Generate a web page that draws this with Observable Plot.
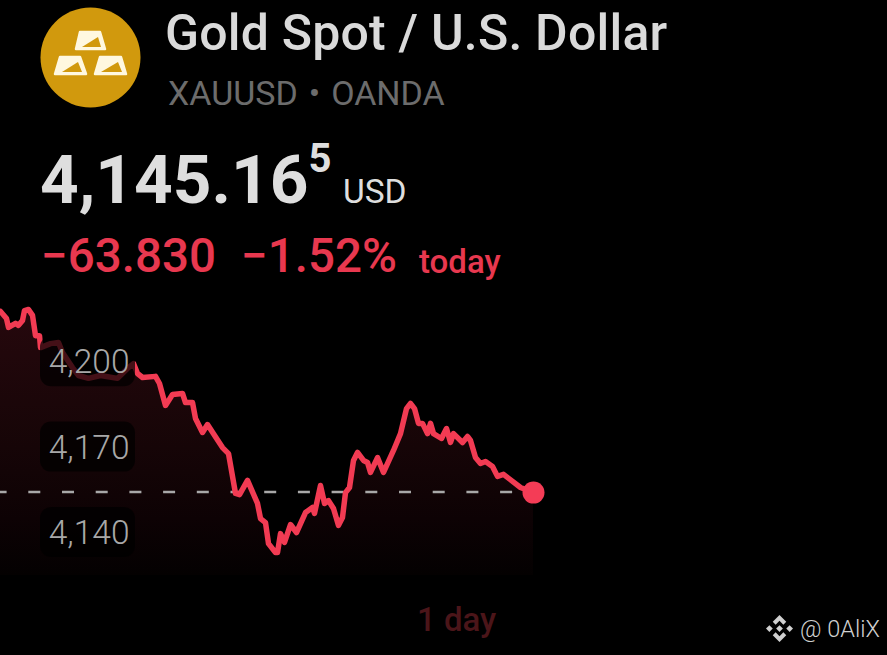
<!DOCTYPE html>
<html>
<head>
<meta charset="utf-8">
<script src="https://cdn.jsdelivr.net/npm/d3@7"></script>
<script src="https://cdn.jsdelivr.net/npm/@observablehq/plot@0.6"></script>
<style>
html,body{margin:0;padding:0;background:#000;width:887px;height:655px;overflow:hidden;font-family:Roboto,sans-serif}
#head{position:relative;width:887px;height:300px}
.t{position:absolute;line-height:1;white-space:nowrap}
#chart{position:absolute;left:0;top:300px;width:887px;height:355px}
#chart svg{display:block;background:transparent}
</style>
</head>
<body>
<div id="head">
<svg style="position:absolute;left:40px;top:7px" width="101" height="101" viewBox="0 0 101 101">
  <circle cx="50.5" cy="50.5" r="50" fill="#d1990d"/>
  <g fill="#fff8e0" stroke="#fff8e0" stroke-width="2.5" stroke-linejoin="round">
    <path d="M40 25 H60 L65 42 H36 Z"/>
    <path d="M20 50 H40 L46 67 H15 Z"/>
    <path d="M60 50 H81 L86 67 H55 Z"/>
  </g>
  <g fill="#d1990d">
    <path d="M42 40 L58 30 L61 40 Z"/>
    <path d="M22 65 L38 55 L42 65 Z"/>
    <path d="M61 65 L78 55 L82 65 Z"/>
  </g>
</svg>
<div class="t" style="left:165px;top:8px;font-size:50px;font-weight:500;letter-spacing:.2px;color:#dadada">Gold Spot / U.S. Dollar</div>
<div class="t" style="left:168px;top:76px;font-size:34px;word-spacing:2.5px;color:#6c6c6c">XAUUSD • OANDA</div>
<div class="t" style="left:40px;top:146px;font-size:67.5px;font-weight:700;color:#dedede">4,145.16<span style="font-size:40px;position:relative;top:-31px;margin-left:0px">5</span></div>
<div class="t" style="left:343px;top:175px;font-size:33.5px;color:#dedede">USD</div>
<div class="t" style="left:41px;top:233px;font-size:47.5px;font-weight:500;color:#e8384f">−63.830</div>
<div class="t" style="left:241px;top:233px;font-size:47.5px;font-weight:500;color:#e8384f">−1.52%</div>
<div class="t" style="left:419px;top:245px;font-size:33px;font-weight:500;color:#e8384f">today</div>
</div>
<div id="chart"></div>
<div class="t" style="left:417px;top:603px;font-size:33px;font-weight:500;color:#4b1519">1 day</div>
<svg style="position:absolute;left:766px;top:615px" width="27" height="27" viewBox="0 0 28 28">
  <g fill="#d0d0d0">
    <path d="M14 0 L21 7 L18 10 L14 6 L10 10 L7 7 Z"/>
    <path d="M14 28 L7 21 L10 18 L14 22 L18 18 L21 21 Z"/>
    <path d="M3.5 10.5 L7 14 L3.5 17.5 L0 14 Z"/>
    <path d="M24.5 10.5 L28 14 L24.5 17.5 L21 14 Z"/>
    <path d="M14 10.5 L17.5 14 L14 17.5 L10.5 14 Z"/>
  </g>
</svg>
<div class="t" style="left:800px;top:618px;font-size:23.5px;font-weight:300;color:#d0d0d0">@ 0AliX</div>
<script>
const bars = [0,6,8,15,18,22,24,28,32,35,39,40,45,50,58,62,72,78,88,100,117,128,133,137,142,155,159,165,172,182,185,192,195,202,207,213,222,228,235,239,247,257,260,265,268,275,277,280,284,290,296,305,312,314,320,324,328,333,338,342,345,349,353,357,363,367,370,377,383,393,400,406,410,414,418,422,427,430,433,441,446,450,453,462,467,470,475,480,485,492,497,503,520,533];
const prices = [4217.6,4215.1,4212,4213.4,4212.7,4214.4,4217.9,4218.3,4216.2,4209.1,4209.1,4204.9,4205.6,4206.3,4206.7,4203.2,4197.9,4195.1,4194.1,4195.1,4194.1,4197.9,4199.3,4195.8,4194.4,4194.8,4192.3,4184.6,4188.4,4188.8,4185.6,4185.6,4180,4175.1,4177.9,4174.7,4169.8,4167.7,4153.7,4153.3,4158.3,4150.2,4144.9,4143.5,4136.1,4133,4133,4139.6,4136.5,4142.8,4140,4147,4148.8,4146.7,4156.5,4150.2,4151.2,4148.4,4142.5,4145.3,4154,4155.8,4165.3,4168.1,4165.3,4164.6,4161.1,4166.3,4161.1,4168.8,4174.7,4183.5,4185.3,4183.5,4178.3,4178.3,4174.7,4178.3,4174.7,4173,4176.5,4171.6,4174.7,4171.6,4173.7,4172.3,4166.3,4164.2,4164.9,4163.2,4159.7,4160.4,4155.8,4154];
const priceTicks = [4140,4170,4200];
const referencePrice = 4154.2;
const areaBase = 4124.9;
const barDomain = [0,887];
const priceDomain = [4096.83,4221.43];

const series = bars.map((b,i)=>({b,p:prices[i]}));
const last = series[series.length-1];

const gradient = () => {
  const defs = d3.create("svg:defs");
  const g = defs.append("linearGradient").attr("id","fade").attr("x1",0).attr("x2",0).attr("y1",0).attr("y2",1);
  g.append("stop").attr("offset","0%").attr("stop-color","#26080d");
  g.append("stop").attr("offset","52%").attr("stop-color","#160507");
  g.append("stop").attr("offset","79%").attr("stop-color","#0d0204");
  g.append("stop").attr("offset","100%").attr("stop-color","#040101");
  return defs.node();
};

const chart = Plot.plot({
  width:887, height:355,
  marginTop:0, marginRight:0, marginBottom:0, marginLeft:0,
  style:{background:"transparent",color:"#a0a0a0",fontFamily:"Roboto, sans-serif",overflow:"visible"},
  x:{domain:barDomain,axis:null},
  y:{domain:priceDomain,label:null},
  marks:[
    gradient,
    Plot.areaY(series,{x:"b",y1:()=>areaBase,y2:"p",fill:"url(#fade)",curve:"linear"}),
    Plot.ruleY([referencePrice],{x1:0,x2:533,stroke:"#a8a8a8",strokeWidth:2.5,strokeDasharray:"12,21.7",strokeDashoffset:5.4}),
    Plot.lineY(series,{x:"b",y:"p",stroke:"#f23b53",strokeWidth:5.5,strokeLinejoin:"round",strokeLinecap:"round",curve:"linear"}),
    Plot.rect(priceTicks,{x1:()=>40,x2:()=>135,y1:d=>d-8.8,y2:d=>d+8.8,fill:"#000",fillOpacity:0.72,rx:11}),
    Plot.axisY(priceTicks,{anchor:"left",tickSize:0,tickPadding:-129,tickFormat:d3.format(","),fontSize:33.5,fontWeight:300,dy:1,fill:"#a8a8a8",label:null}),
    Plot.dot([last],{x:"b",y:"p",r:11,fill:"#f43c56",stroke:null})
  ]
});
document.getElementById("chart").appendChild(chart);
</script>
</body>
</html>
